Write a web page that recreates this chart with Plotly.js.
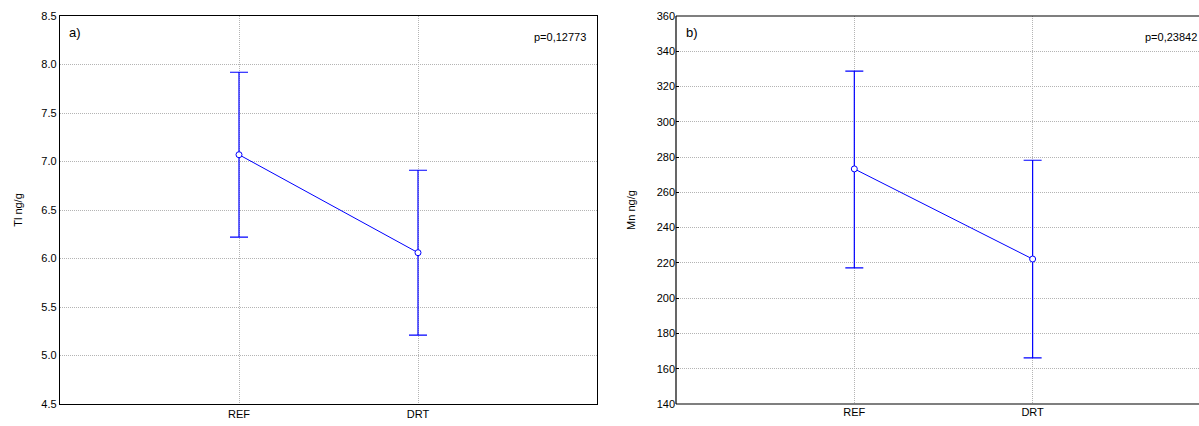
<!DOCTYPE html>
<html><head><meta charset="utf-8">
<script src="https://cdn.plot.ly/plotly-3.0.1.min.js"></script>
<style>html,body{margin:0;padding:0;background:#fff;overflow:hidden}</style>
</head><body>
<div id="chart" style="width:1199px;height:426px"></div>
<script>
const categories = ["REF", "DRT"];
const tlMean = [7.07, 6.06];
const tlUpper = [7.92, 6.91];
const tlLower = [6.22, 5.21];
const mnMean = [273.3, 222.2];
const mnUpper = [328.8, 278.2];
const mnLower = [217.2, 166.2];
const tlTicks = [4.5, 5.0, 5.5, 6.0, 6.5, 7.0, 7.5, 8.0, 8.5];
const mnTicks = [140, 160, 180, 200, 220, 240, 260, 280, 300, 320, 340, 360];

const blue = "#0000FF";
function trace(mean, up, lo, xa, ya) {
  return {
    x: categories, y: mean, xaxis: xa, yaxis: ya, type: "scatter", mode: "lines+markers",
    line: {color: blue, width: 1},
    marker: {symbol: "circle", size: 6, color: "#ffffff", line: {color: blue, width: 1}},
    error_y: {type: "data", symmetric: false,
      array: up.map((v, i) => v - mean[i]),
      arrayminus: mean.map((v, i) => v - lo[i]),
      color: blue, thickness: 1.2, width: 9},
    showlegend: false, hoverinfo: "skip"
  };
}
const font = {family: "Liberation Sans, Arial, sans-serif", size: 11, color: "#000"};
const grid = {showgrid: true, gridcolor: "#b4b4b4", griddash: "1px,1px", gridwidth: 1, zeroline: false, tickfont: font};
const xbase = Object.assign({type: "category", ticks: "", tickmode: "array", tickvals: categories, ticktext: categories}, grid);
const ybase = Object.assign({}, grid);

const axLine = {color: "#000", width: 1.2};
const layout = {
  width: 1199, height: 426,
  margin: {l: 0, r: 0, t: 16, b: 22},
  paper_bgcolor: "#fff", plot_bgcolor: "#fff",
  font: font,
  xaxis: Object.assign({}, xbase, {domain: [60/1199, 597/1199], range: [-1, 2], showline: true, linecolor: "#000", linewidth: 1.2, mirror: true, anchor: "y"}),
  yaxis: Object.assign({}, ybase, {domain: [0, 1], range: [4.5, 8.5], tickvals: tlTicks,
    ticktext: tlTicks.map(v => v.toFixed(1)), showline: true, linecolor: "#000", linewidth: 1.2, mirror: true, ticks: "", anchor: "x",
    title: {text: "Tl ng/g", font: font, standoff: 16}}),
  xaxis2: Object.assign({}, xbase, {domain: [676/1199, 1], range: [-1, 1.933], showline: false, anchor: "y2"}),
  yaxis2: Object.assign({}, ybase, {domain: [0, 1], range: [140, 360], tickvals: mnTicks,
    showline: false, ticks: "inside", ticklen: 3, tickcolor: "#000", anchor: "x2",
    title: {text: "Mn ng/g", font: font, standoff: 18}}),
  shapes: [
    {type: "line", xref: "x2 domain", yref: "y2 domain", x0: 0, x1: 0, y0: 0, y1: 1, line: axLine, layer: "above"},
    {type: "line", xref: "paper", yref: "y2 domain", x0: 676/1199, x1: 1, y0: 0, y1: 0, line: axLine, layer: "above"},
    {type: "line", xref: "paper", yref: "y2 domain", x0: 676/1199, x1: 1, y0: 1, y1: 1, line: axLine, layer: "above"}
  ],
  annotations: [
    {text: "a)", xref: "paper", yref: "paper", x: 67/1199, y: 1 - (33-16)/388, xanchor: "left", yanchor: "middle", showarrow: false, font: {family: font.family, size: 13, color: "#000"}},
    {text: "p=0,12773", xref: "paper", yref: "paper", x: 588/1199, y: 1 - (37-16)/388, xanchor: "right", yanchor: "middle", showarrow: false, font: font},
    {text: "b)", xref: "paper", yref: "paper", x: 684/1199, y: 1 - (33-16)/388, xanchor: "left", yanchor: "middle", showarrow: false, font: {family: font.family, size: 13, color: "#000"}},
    {text: "p=0,23842", xref: "paper", yref: "paper", x: 1199/1199, y: 1 - (37-16)/388, xanchor: "right", yanchor: "middle", showarrow: false, font: font}
  ]
};

Plotly.newPlot("chart", [
  trace(tlMean, tlUpper, tlLower, "x", "y"),
  trace(mnMean, mnUpper, mnLower, "x2", "y2")
], layout, {displayModeBar: false, staticPlot: true});
</script>
</body></html>
